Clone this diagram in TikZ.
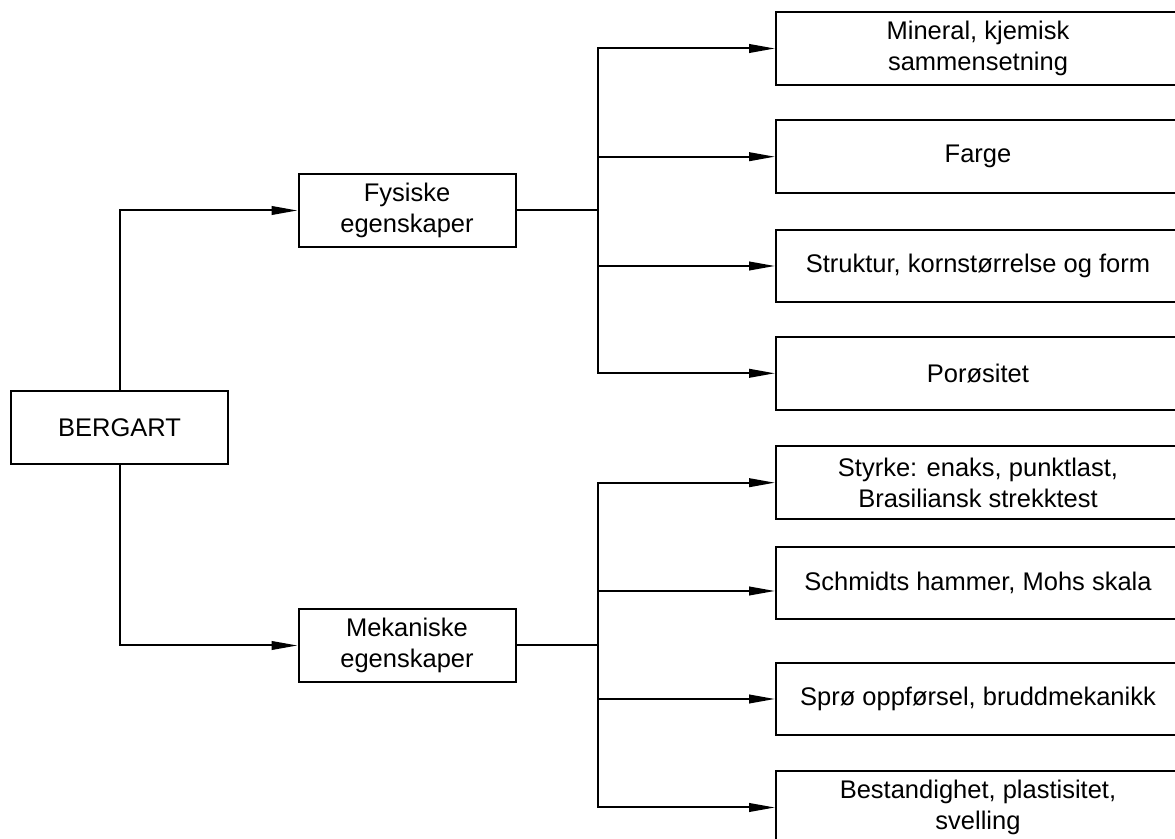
\documentclass[tikz,border=0pt]{standalone}
\usepackage{fontspec}
\setmainfont{Liberation Sans}
\usepackage{tikz}
\usetikzlibrary{arrows.meta}

\begin{document}
\begin{tikzpicture}[x=0.5pt, y=-0.5pt, line width=1pt,
        font=\fontsize{12.75}{15.5}\selectfont,
        hovedboks/.style={draw, align=center, minimum width=108.5pt, minimum height=36.5pt},
        egenskap/.style={draw, align=center, minimum width=202pt, minimum height=36.25pt},
        pil/.style={-{Triangle[length=13pt, width=4.3pt]}}]
        \useasboundingbox (0, 0) rectangle (1175, 839);
        \clip (0, 0) rectangle (1175, 839);

        \node[hovedboks] at (119.5, 427.5)   (bergart) {BERGART};
        \node[hovedboks] at (407, 210.5)     (fysisk) {Fysiske\\egenskaper};
        \node[hovedboks] at (407, 645.5)     (mekanisk) {Mekaniske\\egenskaper};

        \node[egenskap] at (978, 48.5)    (f1) {Mineral, kjemisk\\sammensetning};
        \node[egenskap] at (978, 156.7)   (f2) {Farge};
        \node[egenskap] at (978, 266)     (f3) {Struktur, kornstørrelse og form};
        \node[egenskap] at (978, 373.3)   (f4) {Porøsitet};

        \node[egenskap] at (978, 482.7)   (m1) {Styrke: enaks, punktlast,\\Brasiliansk strekktest};
        \node[egenskap] at (978, 583)     (m2) {Schmidts hammer, Mohs skala};
        \node[egenskap] at (978, 699)     (m3) {Sprø oppførsel, bruddmekanikk};
        \node[egenskap] at (978, 807.5)   (m4) {Bestandighet, plastisitet,\\svelling};

        \coordinate (fgren) at (598, 210.5);
        \coordinate (mgren) at (598, 645.5);

        \draw [pil] (bergart) |- (fysisk);
        \draw [pil] (bergart) |- (mekanisk);

        \draw (fysisk) -- (fgren);
        \draw [pil] (fgren) |- (f1);
        \draw [pil] (fgren) |- (f2);
        \draw [pil] (fgren) |- (f3);
        \draw [pil] (fgren) |- (f4);

        \draw (mekanisk) -- (mgren);
        \draw [pil] (mgren) |- (m1);
        \draw [pil] (mgren) |- ([yshift=-4pt]m2.west);
        \draw [pil] (mgren) |- (m3);
        \draw [pil] (mgren) |- (m4);
    \end{tikzpicture}
\end{document}
